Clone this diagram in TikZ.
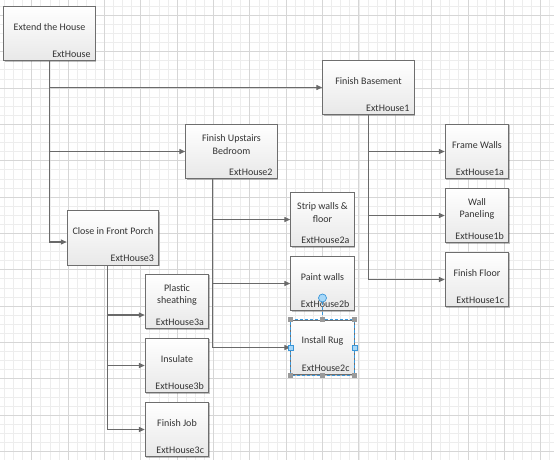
\documentclass[tikz,border=0pt]{standalone}
\usepackage{fontspec}
\setmainfont{Carlito}
\usetikzlibrary{arrows.meta,calc,shadows}
\definecolor{gridminor}{HTML}{EDEDED}
\definecolor{gridmajor}{HTML}{D6D6D6}
\definecolor{boxline}{HTML}{6E6E6E}
\definecolor{conncol}{HTML}{6A6A6A}
\definecolor{txt}{HTML}{333333}
\definecolor{selblue}{HTML}{3A96D8}
\definecolor{handlefill}{HTML}{9A9A9A}
\definecolor{handleblue}{HTML}{A8D8F8}
\tikzset{
  task/.style={draw=boxline, line width=0.9pt, top color=white, bottom color=black!9,
    drop shadow={shadow xshift=1.2pt, shadow yshift=-1.2pt, opacity=0.25, fill=black},
    minimum height=54.5pt, inner sep=0pt},
  widebox/.style={task, minimum width=91.5pt},
  narrowbox/.style={task, minimum width=63.5pt},
  ttl/.style={text=txt, font=\fontsize{10}{12.5}\selectfont, align=center, inner sep=0pt},
  tid/.style={text=txt, font=\fontsize{10}{12}\selectfont, inner sep=0pt, anchor=east},
  conn/.style={draw=conncol, line width=1.3pt, -{Triangle[length=6pt,width=5pt]}},
  hgrey/.style={fill=handlefill, minimum size=5pt, inner sep=0pt},
  hblue/.style={draw=selblue, fill=handleblue, line width=0.6pt, minimum size=5pt, inner sep=0pt},
  selline/.style={draw=selblue, line width=0.8pt, dash pattern=on 3pt off 2pt},
}
\newcommand\mytask[6]{%
  \node[#2] (#1) at (#3,#4) {};
  \node[ttl] (#1t) at ($(#1.north)+(0,21)$) {#5};
  \node[tid] (#1i) at ($(#1.south east)+(-5,-7)$) {#6};
}
\begin{document}
\begin{tikzpicture}[x=1pt,y=-1pt]
\useasboundingbox (0,0) rectangle (554,460);
\fill[white] (0,0) rectangle (554,460);
\begin{scope}
\clip (0,0) rectangle (554,460);
\foreach \i in {0,...,61} \draw[gridminor, line width=0.7pt] ({-4.65+9.0875*\i},0) -- ++(0,460);
\foreach \j in {0,...,51} \draw[gridminor, line width=0.7pt] (0,{-2.9+9.0875*\j}) -- ++(554,0);
\foreach \k in {0,...,15} \draw[gridmajor, line width=0.8pt] ({-4.65+36.35*\k},0) -- ++(0,460);
\foreach \k in {0,...,12} \draw[gridmajor, line width=0.8pt] (0,{15.3+36.35*\k}) -- ++(554,0);
\end{scope}

\mytask{eh}{widebox}{49.5}{33.5}{Extend the House}{ExtHouse}
\mytask{fb}{widebox}{368.5}{87.5}{Finish Basement}{ExtHouse1}
\mytask{fu}{widebox}{231.5}{151.5}{Finish Upstairs\\Bedroom}{ExtHouse2}
\mytask{cp}{widebox}{113}{238}{Close in Front Porch}{ExtHouse3}
\mytask{fw}{narrowbox}{477}{151.5}{Frame Walls}{ExtHouse1a}
\mytask{wp}{narrowbox}{477}{215.5}{Wall\\Paneling}{ExtHouse1b}
\mytask{ff}{narrowbox}{477}{279.5}{Finish Floor}{ExtHouse1c}
\mytask{sw}{narrowbox}{322.5}{219.5}{Strip walls \&\\floor}{ExtHouse2a}
\mytask{pw}{narrowbox}{322.5}{283.5}{Paint walls}{ExtHouse2b}
\mytask{ir}{narrowbox}{322.5}{347.5}{Install Rug}{ExtHouse2c}
\mytask{ps}{narrowbox}{177}{301.5}{Plastic\\sheathing}{ExtHouse3a}
\mytask{in}{narrowbox}{177}{365.5}{Insulate}{ExtHouse3b}
\mytask{fj}{narrowbox}{177}{429.5}{Finish Job}{ExtHouse3c}

% connectors: one trunk per parent, branches from the trunk
\coordinate (cpin) at ([yshift=-4pt]cp.west);
\draw[conn] (eh.south) |- (cpin);
\draw[conn] (eh.south |- fb.west) -- (fb.west);
\draw[conn] (eh.south |- fu.west) -- (fu.west);

\draw[conn] (fb.south) |- (ff.west);
\draw[conn] (fb.south |- fw.west) -- (fw.west);
\draw[conn] (fb.south |- wp.west) -- (wp.west);

\coordinate (t2) at ([xshift=-19pt]fu.south);
\draw[conn] (t2) |- (ir.west);
\draw[conn] (t2 |- sw.west) -- (sw.west);
\draw[conn] (t2 |- pw.west) -- (pw.west);

\coordinate (t3) at ([xshift=-5.5pt]cp.south);
\coordinate (psin) at ([yshift=-13.5pt]ps.west);
\draw[conn] (t3) |- (fj.west);
\draw[conn] (t3 |- psin) -- (psin);
\draw[conn] (t3 |- in.west) -- (in.west);

% selection of Install Rug
\draw[selline] (ir.south west) rectangle (ir.north east);
\node[circle, draw=selblue, fill=handleblue, line width=0.7pt, minimum size=8pt, inner sep=0pt] (rh) at (322.5,298) {};
\draw[selline] (rh) -- (ir.north);
\foreach \a/\n in {north west/h1, north/h2, north east/h3, south west/h4, south/h5, south east/h6}
  \node[hgrey] (\n) at (ir.\a) {};
\node[hblue] (h7) at (ir.west) {};
\node[hblue] (h8) at (ir.east) {};
\end{tikzpicture}
\end{document}
